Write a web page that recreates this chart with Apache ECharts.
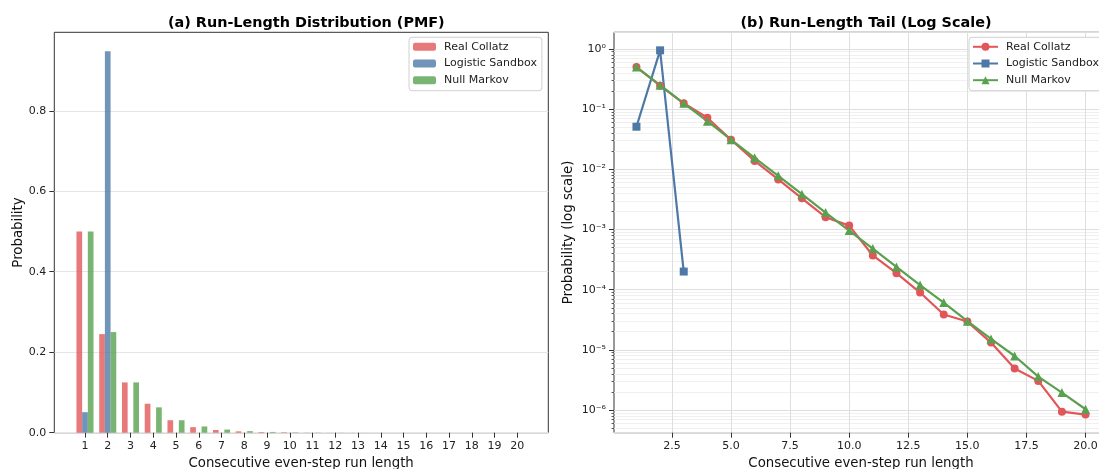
<!DOCTYPE html>
<html>
<head>
<meta charset="utf-8">
<script src="https://cdn.jsdelivr.net/npm/echarts@6/dist/echarts.min.js"></script>
<style>
  html, body { margin: 0; padding: 0; background: #ffffff; }
  #chart { width: 1099px; height: 469px; }
</style>
</head>
<body>
<div id="chart"></div>
<script>
const runLengths = [1, 2, 3, 4, 5, 6, 7, 8, 9, 10, 11, 12, 13, 14, 15, 16, 17, 18, 19, 20];
const realCollatz = [0.5, 0.245, 0.125, 0.072, 0.031, 0.0138, 0.0068, 0.0033, 0.0016, 0.00116,
  0.00037, 0.000188, 0.0000895, 0.0000386, 0.0000295, 0.0000132, 0.0000049, 0.00000305, 0.00000094, 0.00000084];
const logisticSandbox = [0.051, 0.948, 0.0002, 0, 0, 0, 0, 0, 0, 0, 0, 0, 0, 0, 0, 0, 0, 0, 0, 0];
const nullMarkov = [0.5, 0.25, 0.125, 0.063, 0.031, 0.0155, 0.0078, 0.00386, 0.00191, 0.00096,
  0.000482, 0.000239, 0.000119, 0.000061, 0.0000299, 0.0000152, 0.0000079, 0.0000036, 0.00000195, 0.00000103];
const pmfTicks = [0, 0.2, 0.4, 0.6, 0.8];
const tailTicks = [2.5, 5, 7.5, 10, 12.5, 15, 17.5, 20];

const names = ["Real Collatz", "Logistic Sandbox", "Null Markov"];
const colors = ["#e15759", "#4e79a7", "#59a14f"];
const font = "DejaVu Sans";
const tailMin = 4.2e-7, tailMax = 1.89;

// minor log grid (2..9 x 10^k), in log10 space
const minorLogs = [];
for (let e = -7; e <= 0; e++) {
  for (let k = 2; k <= 9; k++) {
    const v = e + Math.log10(k);
    if (v > Math.log10(tailMin) && v < Math.log10(tailMax)) minorLogs.push(v);
  }
}

const sup = n => String(n).split("").map(c => ({"-": "\u207b", "0": "\u2070", "1": "\u00b9", "2": "\u00b2", "3": "\u00b3",
  "4": "\u2074", "5": "\u2075", "6": "\u2076", "7": "\u2077", "8": "\u2078", "9": "\u2079"})[c]).join("");

const pairs = arr => runLengths.map((x, i) => [x, arr[i] > 0 ? arr[i] : null]);

const labelStyle = { color: "#222", fontSize: 11, fontFamily: font };
const nameStyle = { color: "#111", fontSize: 13.3, fontFamily: font };
const titleStyle = { fontSize: 14.4, fontWeight: "bold", color: "#000", fontFamily: font };
const tickStyle = { show: true, length: 5, lineStyle: { color: "#333", width: 1 } };
const noLine = { show: false, onZero: false };

const myChart = echarts.init(document.getElementById("chart"));
const option = {
  animation: false,
  backgroundColor: "#ffffff",
  title: [
    { text: "(a) Run-Length Distribution (PMF)", left: 301.3, top: 11, textAlign: "center", textStyle: titleStyle },
    { text: "(b) Run-Length Tail (Log Scale)", left: 861, top: 11, textAlign: "center", textStyle: titleStyle }
  ],
  legend: [
    {
      data: names, left: 409, top: 37.3, orient: "vertical",
      itemWidth: 23, itemHeight: 8, itemGap: 3.7, padding: [3, 5, 4, 4],
      backgroundColor: "#fff", borderColor: "#d0d0d0", borderWidth: 1, borderRadius: 3,
      textStyle: { fontSize: 11, lineHeight: 13, color: "#222", fontFamily: font, padding: [0, 0, 0, 3] }
    },
    {
      data: names.map(n => "tail:" + n), left: 969, top: 37.3, orient: "vertical",
      itemWidth: 25, itemHeight: 10, itemGap: 3.7, padding: [3, 5, 4, 3],
      backgroundColor: "#fff", borderColor: "#d0d0d0", borderWidth: 1, borderRadius: 3,
      formatter: n => n.replace("tail:", ""),
      textStyle: { fontSize: 11, lineHeight: 13, color: "#222", fontFamily: font, padding: [0, 0, 0, 3] }
    }
  ],
  grid: [
    { left: 73.6, top: 32.3, width: 455.1, height: 400.4, outerBoundsMode: "none" },
    { left: 54.3, top: 32.3, width: 494, height: 400.4, outerBoundsMode: "none",
      show: true, borderColor: "#333", borderWidth: 1 },
    { left: 614, top: 32.3, width: 494, height: 400.4, outerBoundsMode: "none",
      show: true, borderColor: "#333", borderWidth: 1 }
  ],
  xAxis: [
    {
      gridIndex: 0, type: "category", data: runLengths,
      axisLine: noLine,
      axisTick: Object.assign({ alignWithLabel: true }, tickStyle),
      axisLabel: Object.assign({ margin: 8 }, labelStyle),
      name: "Consecutive even-step run length", nameLocation: "middle", nameGap: 23, nameTextStyle: nameStyle
    },
    { gridIndex: 1, type: "value", min: 0, max: 1, show: false },
    {
      gridIndex: 2, type: "value", min: 0.05, max: 20.95,
      axisLine: noLine,
      axisTick: Object.assign({ customValues: tailTicks }, tickStyle),
      axisLabel: Object.assign({ customValues: tailTicks, margin: 8, formatter: v => v.toFixed(1) }, labelStyle),
      splitLine: { show: true, lineStyle: { color: "#dedede", width: 1 } },
      name: "Consecutive even-step run length", nameLocation: "middle", nameGap: 23, nameTextStyle: nameStyle
    }
  ],
  yAxis: [
    { gridIndex: 0, type: "value", min: 0, max: 0.995, show: false },
    {
      gridIndex: 1, type: "value", min: 0, max: 0.995,
      axisLine: noLine,
      axisTick: Object.assign({ customValues: pmfTicks }, tickStyle),
      axisLabel: Object.assign({ customValues: pmfTicks, margin: 8, formatter: v => v.toFixed(1) }, labelStyle),
      splitLine: { show: true, lineStyle: { color: "#e6e6e6", width: 1 } },
      name: "Probability", nameLocation: "middle", nameGap: 29, nameTextStyle: nameStyle
    },
    {
      gridIndex: 2, type: "log", logBase: 10, min: tailMin, max: tailMax,
      axisLine: noLine,
      axisTick: tickStyle,
      axisLabel: Object.assign({
        margin: 8, showMinLabel: false, showMaxLabel: false,
        formatter: v => {
          const e = Math.log10(v), r = Math.round(e);
          return Math.abs(e - r) < 1e-6 ? "10" + sup(r) : "";
        }
      }, labelStyle),
      splitLine: { show: true, lineStyle: { color: "#dedede", width: 1 } },
      name: "Probability (log scale)", nameLocation: "middle", nameGap: 38.5, nameTextStyle: nameStyle
    },
    {
      gridIndex: 2, type: "value", position: "left",
      min: Math.log10(tailMin), max: Math.log10(tailMax),
      axisLine: noLine,
      axisLabel: { show: false },
      axisTick: { show: true, length: 2.5, customValues: minorLogs, lineStyle: { color: "#333", width: 0.8 } },
      splitLine: { show: true, lineStyle: { color: "#f0f0f0", width: 1 } }
    }
  ],
  series: [
    ...[realCollatz, logisticSandbox, nullMarkov].map((arr, i) => ({
      name: names[i], type: "bar", xAxisIndex: 0, yAxisIndex: 0,
      data: arr, barGap: "0%", barCategoryGap: "25%",
      itemStyle: { color: colors[i], opacity: 0.8 }
    })),
    ...[realCollatz, logisticSandbox, nullMarkov].map((arr, i) => ({
      name: "tail:" + names[i], type: "line", xAxisIndex: 2, yAxisIndex: 2,
      data: pairs(arr), connectNulls: false,
      symbol: ["circle", "rect", "triangle"][i], symbolSize: [8, 8, 9][i], showAllSymbol: true,
      lineStyle: { color: colors[i], width: 2.2 },
      itemStyle: { color: colors[i] }
    }))
  ]
};
myChart.setOption(option);
</script>
</body>
</html>
